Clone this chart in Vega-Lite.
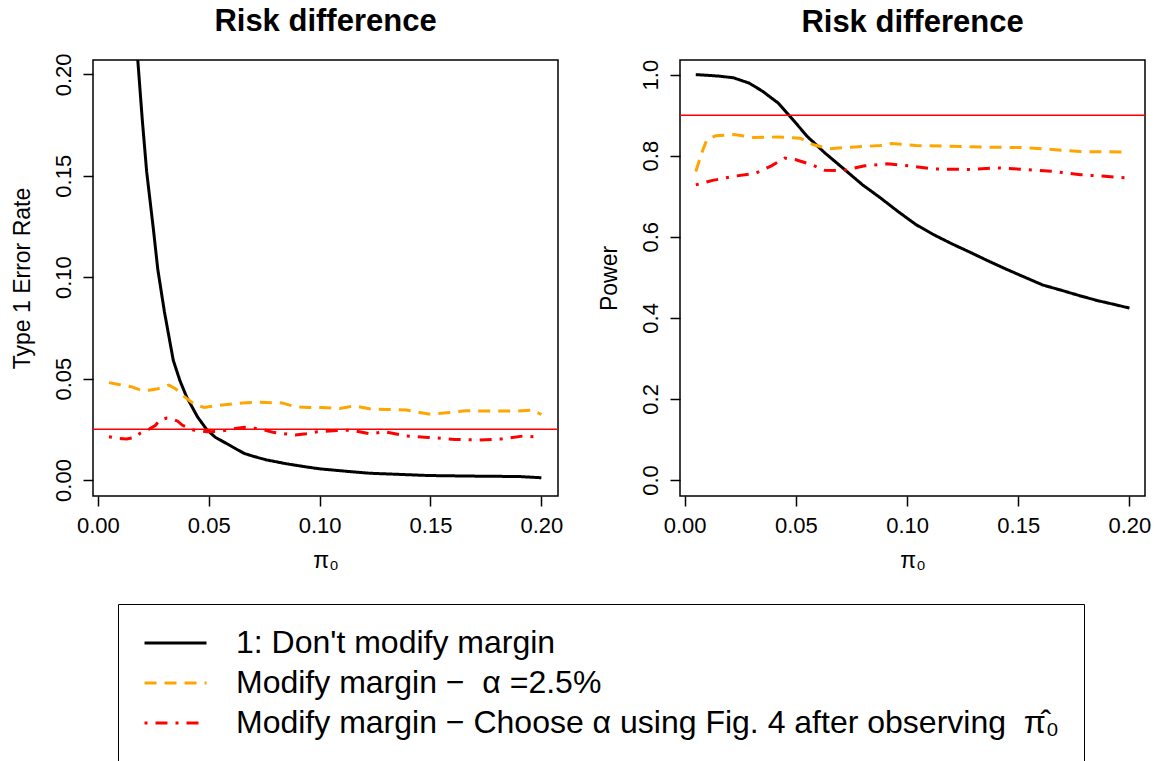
{
  "$schema": "https://vega.github.io/schema/vega-lite/v6.json",
  "background": "white",
  "padding": {"left": 10, "top": 5, "right": 5, "bottom": 5},
  "config": {
    "font": "Liberation Sans",
    "view": {"stroke": "black", "strokeWidth": 1.5},
    "axis": {"domain": false, "grid": false, "tickColor": "black", "tickSize": 10, "tickWidth": 1.5, "labelFontSize": 22, "labelColor": "black", "titleFontSize": 23, "titleFontWeight": "normal", "titleColor": "black"},
    "axisY": {"labelAngle": -90, "labelAlign": "center", "labelBaseline": "bottom", "labelPadding": 8, "titlePadding": 18},
    "axisX": {"labelPadding": 9, "titlePadding": 13},
    "title": {"fontSize": 31, "fontWeight": "bold", "anchor": "middle", "color": "black"}
  },
  "datasets": {
    "curves": [
      {"p": "t1", "s": "A", "x": 0.005, "y": 0.70}, {"p": "t1", "s": "A", "x": 0.010, "y": 0.45}, {"p": "t1", "s": "A", "x": 0.015, "y": 0.27}, {"p": "t1", "s": "A", "x": 0.018, "y": 0.207}, {"p": "t1", "s": "A", "x": 0.020, "y": 0.178}, {"p": "t1", "s": "A", "x": 0.022, "y": 0.152}, {"p": "t1", "s": "A", "x": 0.025, "y": 0.124}, {"p": "t1", "s": "A", "x": 0.027, "y": 0.104}, {"p": "t1", "s": "A", "x": 0.030, "y": 0.083}, {"p": "t1", "s": "A", "x": 0.032, "y": 0.071}, {"p": "t1", "s": "A", "x": 0.034, "y": 0.059}, {"p": "t1", "s": "A", "x": 0.037, "y": 0.049}, {"p": "t1", "s": "A", "x": 0.040, "y": 0.041}, {"p": "t1", "s": "A", "x": 0.045, "y": 0.031}, {"p": "t1", "s": "A", "x": 0.049, "y": 0.025}, {"p": "t1", "s": "A", "x": 0.053, "y": 0.021}, {"p": "t1", "s": "A", "x": 0.058, "y": 0.018}, {"p": "t1", "s": "A", "x": 0.062, "y": 0.0155}, {"p": "t1", "s": "A", "x": 0.066, "y": 0.0131}, {"p": "t1", "s": "A", "x": 0.070, "y": 0.0117}, {"p": "t1", "s": "A", "x": 0.076, "y": 0.0099}, {"p": "t1", "s": "A", "x": 0.085, "y": 0.0080}, {"p": "t1", "s": "A", "x": 0.093, "y": 0.0066}, {"p": "t1", "s": "A", "x": 0.100, "y": 0.0055}, {"p": "t1", "s": "A", "x": 0.106, "y": 0.0049}, {"p": "t1", "s": "A", "x": 0.115, "y": 0.0040}, {"p": "t1", "s": "A", "x": 0.123, "y": 0.0033}, {"p": "t1", "s": "A", "x": 0.135, "y": 0.0028}, {"p": "t1", "s": "A", "x": 0.149, "y": 0.0022}, {"p": "t1", "s": "A", "x": 0.170, "y": 0.0019}, {"p": "t1", "s": "A", "x": 0.190, "y": 0.0017}, {"p": "t1", "s": "A", "x": 0.200, "y": 0.0011},
      {"p": "t1", "s": "B", "x": 0.005, "y": 0.048}, {"p": "t1", "s": "B", "x": 0.010, "y": 0.047}, {"p": "t1", "s": "B", "x": 0.015, "y": 0.046}, {"p": "t1", "s": "B", "x": 0.020, "y": 0.044}, {"p": "t1", "s": "B", "x": 0.023, "y": 0.0443}, {"p": "t1", "s": "B", "x": 0.027, "y": 0.045}, {"p": "t1", "s": "B", "x": 0.032, "y": 0.0468}, {"p": "t1", "s": "B", "x": 0.035, "y": 0.045}, {"p": "t1", "s": "B", "x": 0.038, "y": 0.042}, {"p": "t1", "s": "B", "x": 0.041, "y": 0.0394}, {"p": "t1", "s": "B", "x": 0.044, "y": 0.037}, {"p": "t1", "s": "B", "x": 0.048, "y": 0.0358}, {"p": "t1", "s": "B", "x": 0.056, "y": 0.037}, {"p": "t1", "s": "B", "x": 0.065, "y": 0.038}, {"p": "t1", "s": "B", "x": 0.073, "y": 0.0383}, {"p": "t1", "s": "B", "x": 0.083, "y": 0.038}, {"p": "t1", "s": "B", "x": 0.089, "y": 0.0361}, {"p": "t1", "s": "B", "x": 0.095, "y": 0.0358}, {"p": "t1", "s": "B", "x": 0.101, "y": 0.0358}, {"p": "t1", "s": "B", "x": 0.109, "y": 0.0353}, {"p": "t1", "s": "B", "x": 0.116, "y": 0.0365}, {"p": "t1", "s": "B", "x": 0.123, "y": 0.035}, {"p": "t1", "s": "B", "x": 0.130, "y": 0.0348}, {"p": "t1", "s": "B", "x": 0.139, "y": 0.0345}, {"p": "t1", "s": "B", "x": 0.149, "y": 0.0325}, {"p": "t1", "s": "B", "x": 0.156, "y": 0.033}, {"p": "t1", "s": "B", "x": 0.166, "y": 0.0341}, {"p": "t1", "s": "B", "x": 0.176, "y": 0.034}, {"p": "t1", "s": "B", "x": 0.189, "y": 0.034}, {"p": "t1", "s": "B", "x": 0.196, "y": 0.0345}, {"p": "t1", "s": "B", "x": 0.200, "y": 0.0323},
      {"p": "t1", "s": "C", "x": 0.005, "y": 0.0213}, {"p": "t1", "s": "C", "x": 0.009, "y": 0.0205}, {"p": "t1", "s": "C", "x": 0.013, "y": 0.0202}, {"p": "t1", "s": "C", "x": 0.017, "y": 0.021}, {"p": "t1", "s": "C", "x": 0.019, "y": 0.023}, {"p": "t1", "s": "C", "x": 0.023, "y": 0.025}, {"p": "t1", "s": "C", "x": 0.026, "y": 0.027}, {"p": "t1", "s": "C", "x": 0.028, "y": 0.0296}, {"p": "t1", "s": "C", "x": 0.031, "y": 0.0305}, {"p": "t1", "s": "C", "x": 0.033, "y": 0.0304}, {"p": "t1", "s": "C", "x": 0.036, "y": 0.029}, {"p": "t1", "s": "C", "x": 0.038, "y": 0.0271}, {"p": "t1", "s": "C", "x": 0.043, "y": 0.0246}, {"p": "t1", "s": "C", "x": 0.049, "y": 0.0238}, {"p": "t1", "s": "C", "x": 0.056, "y": 0.0241}, {"p": "t1", "s": "C", "x": 0.061, "y": 0.0252}, {"p": "t1", "s": "C", "x": 0.066, "y": 0.026}, {"p": "t1", "s": "C", "x": 0.073, "y": 0.0253}, {"p": "t1", "s": "C", "x": 0.079, "y": 0.0235}, {"p": "t1", "s": "C", "x": 0.084, "y": 0.0228}, {"p": "t1", "s": "C", "x": 0.089, "y": 0.0222}, {"p": "t1", "s": "C", "x": 0.094, "y": 0.0228}, {"p": "t1", "s": "C", "x": 0.099, "y": 0.0238}, {"p": "t1", "s": "C", "x": 0.106, "y": 0.0243}, {"p": "t1", "s": "C", "x": 0.114, "y": 0.0246}, {"p": "t1", "s": "C", "x": 0.123, "y": 0.0227}, {"p": "t1", "s": "C", "x": 0.129, "y": 0.0238}, {"p": "t1", "s": "C", "x": 0.134, "y": 0.0228}, {"p": "t1", "s": "C", "x": 0.139, "y": 0.0217}, {"p": "t1", "s": "C", "x": 0.149, "y": 0.021}, {"p": "t1", "s": "C", "x": 0.161, "y": 0.020}, {"p": "t1", "s": "C", "x": 0.172, "y": 0.0197}, {"p": "t1", "s": "C", "x": 0.182, "y": 0.0202}, {"p": "t1", "s": "C", "x": 0.192, "y": 0.0217}, {"p": "t1", "s": "C", "x": 0.200, "y": 0.021},
      {"p": "pw", "s": "A", "x": 0.005, "y": 1.0}, {"p": "pw", "s": "A", "x": 0.011, "y": 0.998}, {"p": "pw", "s": "A", "x": 0.016, "y": 0.996}, {"p": "pw", "s": "A", "x": 0.022, "y": 0.992}, {"p": "pw", "s": "A", "x": 0.029, "y": 0.979}, {"p": "pw", "s": "A", "x": 0.035, "y": 0.959}, {"p": "pw", "s": "A", "x": 0.042, "y": 0.930}, {"p": "pw", "s": "A", "x": 0.047, "y": 0.899}, {"p": "pw", "s": "A", "x": 0.051, "y": 0.874}, {"p": "pw", "s": "A", "x": 0.055, "y": 0.848}, {"p": "pw", "s": "A", "x": 0.063, "y": 0.807}, {"p": "pw", "s": "A", "x": 0.071, "y": 0.770}, {"p": "pw", "s": "A", "x": 0.080, "y": 0.728}, {"p": "pw", "s": "A", "x": 0.088, "y": 0.696}, {"p": "pw", "s": "A", "x": 0.096, "y": 0.662}, {"p": "pw", "s": "A", "x": 0.104, "y": 0.630}, {"p": "pw", "s": "A", "x": 0.112, "y": 0.605}, {"p": "pw", "s": "A", "x": 0.120, "y": 0.583}, {"p": "pw", "s": "A", "x": 0.129, "y": 0.560}, {"p": "pw", "s": "A", "x": 0.137, "y": 0.539}, {"p": "pw", "s": "A", "x": 0.145, "y": 0.519}, {"p": "pw", "s": "A", "x": 0.153, "y": 0.500}, {"p": "pw", "s": "A", "x": 0.161, "y": 0.481}, {"p": "pw", "s": "A", "x": 0.170, "y": 0.467}, {"p": "pw", "s": "A", "x": 0.178, "y": 0.454}, {"p": "pw", "s": "A", "x": 0.186, "y": 0.442}, {"p": "pw", "s": "A", "x": 0.194, "y": 0.432}, {"p": "pw", "s": "A", "x": 0.200, "y": 0.424},
      {"p": "pw", "s": "B", "x": 0.005, "y": 0.761}, {"p": "pw", "s": "B", "x": 0.0077, "y": 0.807}, {"p": "pw", "s": "B", "x": 0.010, "y": 0.840}, {"p": "pw", "s": "B", "x": 0.014, "y": 0.849}, {"p": "pw", "s": "B", "x": 0.022, "y": 0.852}, {"p": "pw", "s": "B", "x": 0.031, "y": 0.845}, {"p": "pw", "s": "B", "x": 0.042, "y": 0.846}, {"p": "pw", "s": "B", "x": 0.052, "y": 0.843}, {"p": "pw", "s": "B", "x": 0.058, "y": 0.827}, {"p": "pw", "s": "B", "x": 0.065, "y": 0.817}, {"p": "pw", "s": "B", "x": 0.075, "y": 0.821}, {"p": "pw", "s": "B", "x": 0.088, "y": 0.825}, {"p": "pw", "s": "B", "x": 0.093, "y": 0.830}, {"p": "pw", "s": "B", "x": 0.104, "y": 0.825}, {"p": "pw", "s": "B", "x": 0.120, "y": 0.823}, {"p": "pw", "s": "B", "x": 0.137, "y": 0.821}, {"p": "pw", "s": "B", "x": 0.153, "y": 0.820}, {"p": "pw", "s": "B", "x": 0.163, "y": 0.816}, {"p": "pw", "s": "B", "x": 0.178, "y": 0.810}, {"p": "pw", "s": "B", "x": 0.200, "y": 0.809},
      {"p": "pw", "s": "C", "x": 0.005, "y": 0.728}, {"p": "pw", "s": "C", "x": 0.0126, "y": 0.739}, {"p": "pw", "s": "C", "x": 0.022, "y": 0.749}, {"p": "pw", "s": "C", "x": 0.032, "y": 0.757}, {"p": "pw", "s": "C", "x": 0.039, "y": 0.775}, {"p": "pw", "s": "C", "x": 0.045, "y": 0.794}, {"p": "pw", "s": "C", "x": 0.050, "y": 0.790}, {"p": "pw", "s": "C", "x": 0.057, "y": 0.778}, {"p": "pw", "s": "C", "x": 0.063, "y": 0.764}, {"p": "pw", "s": "C", "x": 0.071, "y": 0.763}, {"p": "pw", "s": "C", "x": 0.081, "y": 0.775}, {"p": "pw", "s": "C", "x": 0.091, "y": 0.780}, {"p": "pw", "s": "C", "x": 0.101, "y": 0.775}, {"p": "pw", "s": "C", "x": 0.112, "y": 0.767}, {"p": "pw", "s": "C", "x": 0.129, "y": 0.766}, {"p": "pw", "s": "C", "x": 0.140, "y": 0.770}, {"p": "pw", "s": "C", "x": 0.153, "y": 0.766}, {"p": "pw", "s": "C", "x": 0.166, "y": 0.761}, {"p": "pw", "s": "C", "x": 0.178, "y": 0.753}, {"p": "pw", "s": "C", "x": 0.189, "y": 0.749}, {"p": "pw", "s": "C", "x": 0.200, "y": 0.745}
    ]
  },
  "hconcat": [
    {
      "width": 465, "height": 436,
      "title": {"text": "Risk difference", "offset": 15},
      "layer": [
        {
          "data": {"name": "curves"},
          "transform": [{"filter": "datum.p == 't1'"}],
          "mark": {"type": "line", "strokeWidth": 3, "clip": true},
          "encoding": {
            "x": {"field": "x", "type": "quantitative", "scale": {"domain": [-0.0022, 0.2075], "nice": false, "zero": false}, "axis": {"values": [0, 0.05, 0.1, 0.15, 0.2], "format": ".2f", "title": "π₀"}},
            "y": {"field": "y", "type": "quantitative", "scale": {"domain": [-0.0079, 0.2071], "nice": false, "zero": false}, "axis": {"values": [0, 0.05, 0.1, 0.15, 0.2], "format": ".2f", "title": "Type 1 Error Rate"}},
            "color": {"field": "s", "type": "nominal", "scale": {"domain": ["A", "B", "C"], "range": ["#000000", "#FFA500", "#FF0000"]},
              "legend": {"orient": "none", "legendX": 25, "legendY": 544, "title": null, "direction": "vertical", "strokeColor": "black", "padding": 24, "symbolOffset": 1, "clipHeight": 30, "symbolType": "stroke", "symbolSize": 3844, "symbolStrokeWidth": 3, "labelFontSize": 32, "labelColor": "black", "labelOffset": 28, "rowPadding": 8, "labelLimit": 1200,
                "labelExpr": "datum.label == 'A' ? \"1: Don't modify margin\" : datum.label == 'B' ? 'Modify margin \u2212 \u00a0\u03b1 =2.5%' : 'Modify margin \u2212 Choose \u03b1 using Fig. 4 after observing \u00a0\u03c0\u0302\u2080'"}},
            "strokeDash": {"field": "s", "type": "nominal", "scale": {"domain": ["A", "B", "C"], "range": [[1, 0], [12, 8], [3, 8, 12, 8]]},
              "legend": {"orient": "none", "legendX": 25, "legendY": 544, "title": null, "direction": "vertical", "strokeColor": "black", "padding": 24, "symbolOffset": 1, "clipHeight": 30, "symbolType": "stroke", "symbolSize": 3844, "symbolStrokeWidth": 3, "labelFontSize": 32, "labelColor": "black", "labelOffset": 28, "rowPadding": 8, "labelLimit": 1200,
                "labelExpr": "datum.label == 'A' ? \"1: Don't modify margin\" : datum.label == 'B' ? 'Modify margin \u2212 \u00a0\u03b1 =2.5%' : 'Modify margin \u2212 Choose \u03b1 using Fig. 4 after observing \u00a0\u03c0\u0302\u2080'"}}
          }
        },
        {
          "data": {"values": [{"h": 0.025}]},
          "mark": {"type": "rule", "color": "#FF0000", "strokeWidth": 1.5},
          "encoding": {"y": {"field": "h", "type": "quantitative"}}
        }
      ]
    },
    {
      "width": 465, "height": 436,
      "title": {"text": "Risk difference", "offset": 20},
      "layer": [
        {
          "data": {"name": "curves"},
          "transform": [{"filter": "datum.p == 'pw'"}],
          "mark": {"type": "line", "strokeWidth": 3, "clip": true},
          "encoding": {
            "x": {"field": "x", "type": "quantitative", "scale": {"domain": [-0.0021, 0.207], "nice": false, "zero": false}, "axis": {"values": [0, 0.05, 0.1, 0.15, 0.2], "format": ".2f", "title": "π₀"}},
            "y": {"field": "y", "type": "quantitative", "scale": {"domain": [-0.0395, 1.036], "nice": false, "zero": false}, "axis": {"values": [0, 0.2, 0.4, 0.6, 0.8, 1.0], "format": ".1f", "title": "Power"}},
            "color": {"field": "s", "type": "nominal"},
            "strokeDash": {"field": "s", "type": "nominal"}
          }
        },
        {
          "data": {"values": [{"h": 0.9}]},
          "mark": {"type": "rule", "color": "#FF0000", "strokeWidth": 1.5},
          "encoding": {"y": {"field": "h", "type": "quantitative"}}
        }
      ]
    }
  ],
  "spacing": 33
}
